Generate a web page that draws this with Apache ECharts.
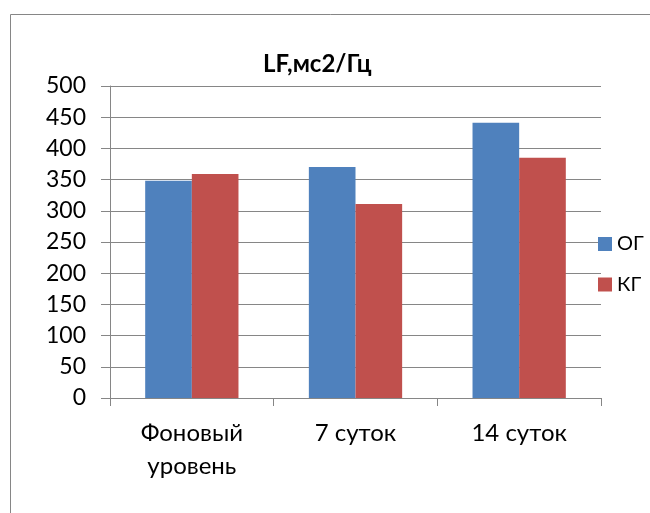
<!DOCTYPE html>
<html>
<head>
<meta charset="utf-8">
<script src="https://cdn.jsdelivr.net/npm/echarts@6/dist/echarts.min.js"></script>
<style>
  html, body { margin: 0; padding: 0; background: #fff; }
  #chart { width: 650px; height: 513px; }
</style>
</head>
<body>
<div id="chart"></div>
<script>
var categories = ['Фоновый\nуровень', '7 суток', '14 суток'];
var seriesNames = ['ОГ', 'КГ'];
var ogValues = [348, 370, 441];
var kgValues = [359, 311, 385];
var yMin = 0, yMax = 500, yStep = 50;

var FONT = 'Lato, "Open Sans", sans-serif';
var GRAY = '#868686';

var chart = echarts.init(document.getElementById('chart'));
chart.setOption({
  animation: false,
  backgroundColor: '#fff',
  textStyle: { fontFamily: FONT },
  title: {
    text: 'LF,мс2/Гц',
    left: 258, top: 47,
    textStyle: { fontFamily: FONT, fontSize: 24, fontWeight: 'bold', color: '#000' }
  },
  // chart-area frame (only left/top edges visible in the crop)
  graphic: [{
    type: 'rect', left: 8, top: 12,
    shape: { width: 700, height: 600 },
    style: { fill: 'none', stroke: GRAY, lineWidth: 1 }
  }],
  legend: {
    orient: 'vertical', left: 598, top: 233, padding: 0,
    itemWidth: 14, itemHeight: 14, itemGap: 18.5,
    icon: 'rect',
    textStyle: { fontFamily: FONT, fontSize: 20, lineHeight: 22, color: '#000' },
    data: seriesNames
  },
  grid: { left: 110, right: 49, top: 86, bottom: 115, containLabel: false },
  xAxis: {
    type: 'category',
    data: categories,
    axisLine: { lineStyle: { color: GRAY, width: 1 } },
    axisTick: { show: true, length: 8, lineStyle: { color: GRAY } },
    axisLabel: { margin: 19, fontSize: 24, lineHeight: 33, color: '#000', fontFamily: FONT }
  },
  yAxis: {
    type: 'value',
    min: yMin, max: yMax, interval: yStep,
    axisLine: { show: true, lineStyle: { color: GRAY, width: 1 } },
    axisTick: { show: true, length: 9, lineStyle: { color: GRAY } },
    splitLine: { lineStyle: { color: GRAY, width: 1 } },
    axisLabel: { margin: 24, fontSize: 23, color: '#000', fontFamily: FONT }
  },
  series: [
    { name: seriesNames[0], type: 'bar', data: ogValues, barGap: '0%', barCategoryGap: '43%',
      itemStyle: { color: '#4F81BD' } },
    { name: seriesNames[1], type: 'bar', data: kgValues, barGap: '0%', barCategoryGap: '43%',
      itemStyle: { color: '#C0504D' } }
  ]
});
</script>
</body>
</html>
